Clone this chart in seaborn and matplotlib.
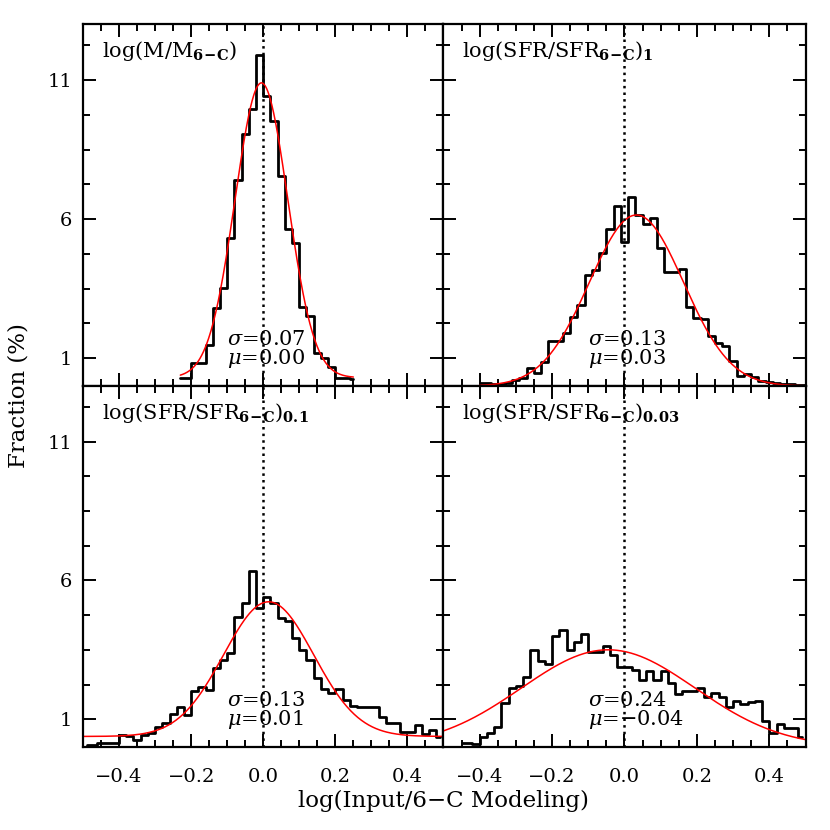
import numpy as np
import matplotlib
matplotlib.use('Agg')
import matplotlib.pyplot as plt
import seaborn as sns

sns.set_style('ticks')
plt.rcParams['font.family'] = ['DejaVu Serif']
plt.rcParams['mathtext.fontset'] = 'dejavuserif'
plt.rcParams['text.color'] = 'black'
plt.rcParams['axes.labelcolor'] = 'black'

# histogram values (fraction in %), bin width 0.02, first bin centre per panel
start_mass = -0.23
frac_mass = [0.3, 0.3, 0.82, 0.82, 1.47, 2.79, 3.51, 5.31, 7.41, 9.05, 9.96, 11.9, 10.43,
             9.54, 7.57, 5.64, 5.13, 2.85, 2.53, 1.2, 0.99, 0.69, 0.28, 0.28, 0.25]

start_sfr1 = -0.40
frac_sfr1 = [0.1, 0.1, 0.07, 0.07, 0.1, 0.2, 0.3, 0.64, 0.47, 0.85, 1.63, 1.63, 1.9, 2.47,
             2.93, 3.99, 4.19, 4.8, 5.65, 6.49,
             5.19, 6.81, 6.15, 5.83, 6.03, 4.95, 4.11, 4.11, 4.21, 2.83, 2.43, 2.4, 1.8,
             1.56, 1.45, 0.91, 0.36, 0.45, 0.33, 0.18, 0.13, 0.1, 0.07, 0.06, 0.04, 0.04]

start_sfr01 = -0.49
frac_sfr01 = [0.08, 0.08, 0.15, 0.15, 0.15, 0.43, 0.38, 0.25, 0.43, 0.49, 0.73, 0.88, 1.19,
              1.43, 1.15, 2.03, 2.15, 2.05, 2.83, 3.13, 3.37, 4.69, 5.17, 6.34, 5.02,
              5.41, 5.2, 4.63, 4.54, 3.91, 3.51, 3.15, 2.47, 2.08, 1.93, 2.08, 1.71, 1.47,
              1.45, 1.45, 1.45, 1.09, 0.88, 0.88, 0.55, 0.55, 0.79, 0.47, 0.61, 0.37]

start_sfr003 = -0.45
frac_sfr003 = [0.13, 0.16, 0.11, 0.37, 0.52, 0.71, 1.57, 2.11, 2.21, 2.51, 3.49, 3.1, 2.99,
               3.99, 4.23, 3.51, 3.77, 4.06, 3.41, 3.41, 3.64, 3.31, 2.87,
               2.89, 2.79, 2.43, 2.74, 2.43, 2.74, 2.29, 1.9, 2.03, 2.03, 2.11, 1.81, 1.93,
               1.81, 1.45, 1.67, 1.55, 1.63, 1.67, 0.95, 0.52, 0.83, 0.67, 0.67, 0.37]

# gaussian fit: amplitude, centre, width, baseline, x-range of the drawn curve
fit_mass = (10.6, -0.005, 0.073, 0.3, -0.23, 0.25)
fit_sfr1 = (6.15, 0.033, 0.13, 0.0, -0.40, 0.50)
fit_sfr01 = (4.85, 0.015, 0.125, 0.38, -0.50, 0.50)
fit_sfr003 = (3.5, -0.045, 0.24, 0.0, -0.50, 0.50)

labels = [r'$\mathrm{log(M/M}_{\mathbf{6\!-\!C}}\mathrm{)}$',
          r'$\mathrm{log(SFR/SFR}_{\mathbf{6\!-\!C}}\mathrm{)}_{\mathbf{1}}$',
          r'$\mathrm{log(SFR/SFR}_{\mathbf{6\!-\!C}}\mathrm{)}_{\mathbf{0.1}}$',
          r'$\mathrm{log(SFR/SFR}_{\mathbf{6\!-\!C}}\mathrm{)}_{\mathbf{0.03}}$']
sigmas = ['0.07', '0.13', '0.13', '0.24']
mus = ['0.00', '0.03', '0.01', '\u22120.04']

panels = [(start_mass, frac_mass, fit_mass),
          (start_sfr1, frac_sfr1, fit_sfr1),
          (start_sfr01, frac_sfr01, fit_sfr01),
          (start_sfr003, frac_sfr003, fit_sfr003)]

rects = [[0.1, 0.5349, 0.4343, 0.4356], [0.5343, 0.5349, 0.4362, 0.4356],
         [0.1, 0.1, 0.4343, 0.4349], [0.5343, 0.1, 0.4362, 0.4349]]

fig = plt.figure(figsize=(8.3, 8.3), dpi=100)

for i, (start, frac, fit) in enumerate(panels):
    ax = fig.add_axes(rects[i])
    centres = np.round(start + 0.02 * np.arange(len(frac)), 2)
    # IDL style histogram: first and last steps only half a bin wide
    edges = np.concatenate([[centres[0]], (centres[:-1] + centres[1:]) / 2, [centres[-1]]])
    sns.histplot(x=list(centres), weights=list(frac), bins=list(edges), element='step',
                 fill=False, color='black', linewidth=2.0, ax=ax)

    amp, mu, sig, base, lo, hi = fit
    xs = np.linspace(lo, hi, 300)
    ys = amp * np.exp(-0.5 * ((xs - mu) / sig) ** 2) + base
    sns.lineplot(x=xs, y=ys, color='red', linewidth=1.1, ax=ax)

    ax.axvline(0, color='black', linestyle=':', linewidth=1.8)

    ax.set_xlim(-0.5, 0.5)
    ax.set_ylim(0, 13)
    ax.set_xticks([-0.4, -0.2, 0.0, 0.2, 0.4])
    ax.set_xticks(np.arange(-0.5, 0.51, 0.05), minor=True)
    ax.set_yticks([1, 6, 11])
    ax.set_yticks(np.arange(1, 13, 1.25), minor=True)
    ax.tick_params(which='both', direction='in', top=True, right=True, width=1.4,
                   labelsize=14, colors='black')
    ax.tick_params(which='major', length=9.5)
    ax.tick_params(which='minor', length=5)
    ax.tick_params(axis='x', pad=15)
    ax.tick_params(axis='y', pad=8)
    if i < 2:
        ax.tick_params(axis='x', labelbottom=False)
    if i % 2 == 1:
        ax.tick_params(axis='y', labelleft=False)
    for s in ax.spines.values():
        s.set_linewidth(1.6)
        s.set_color('black')
    ax.set_xlabel('')
    ax.set_ylabel('')

    ax.text(0.052, 0.91, labels[i], transform=ax.transAxes, fontsize=15, va='baseline')
    ax.text(-0.1, 1.48, r'$\sigma$=' + sigmas[i], fontsize=15, va='baseline')
    ax.text(-0.1, 0.79, r'$\mu$=' + mus[i], fontsize=15, va='baseline')

fig.text(0.534, 0.035, 'log(Input/6\u2212C Modeling)', fontsize=16.5, ha='center', va='center')
fig.text(0.022, 0.524, 'Fraction (%)', fontsize=16.5, ha='center', va='center', rotation=90)

fig.savefig('out.png', dpi=100, facecolor='white')
